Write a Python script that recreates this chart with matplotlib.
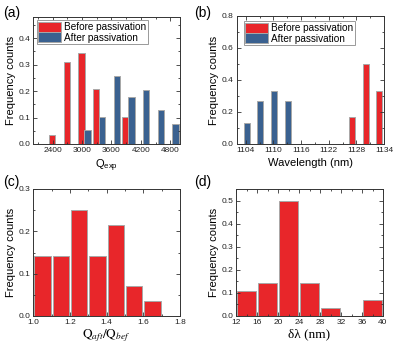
import matplotlib
matplotlib.use("Agg")
import matplotlib.pyplot as plt
from matplotlib.ticker import AutoMinorLocator, MultipleLocator

plt.rcParams['font.family'] = ['Liberation Sans', 'DejaVu Sans']

# ---- data ----
# (a) Q_exp histogram
qa_before_x = [2390, 2690, 2990, 3290, 3890]
qa_before_y = [1/29, 9/29, 10/29, 6/29, 3/29]
qa_after_x = [3110, 3410, 3710, 4010, 4310, 4610, 4910]
qa_after_y = [2/39, 4/39, 10/39, 7/39, 8/39, 5/39, 3/39]
qa_ticks = [2400, 3000, 3600, 4200, 4800]

# (b) wavelength histogram
wl_before_x = [1127.0, 1130.0, 1133.0]
wl_before_y = [1/6, 3/6, 2/6]
wl_after_x = [1104.2, 1107.2, 1110.2, 1113.2]
wl_after_y = [2/15, 4/15, 5/15, 4/15]
wl_ticks = [1104, 1110, 1116, 1122, 1128, 1134]

# (c) Q ratio histogram
qr_x = [1.05, 1.15, 1.25, 1.35, 1.45, 1.55, 1.65]
qr_y = [4/28, 4/28, 7/28, 4/28, 6/28, 2/28, 1/28]
qr_ticks = [1.0, 1.2, 1.4, 1.6, 1.8]

# (d) shift histogram
dl_x = [14, 18, 22, 26, 30, 34, 38]
dl_y = [3/28, 4/28, 14/28, 4/28, 1/28, 0, 2/28]
dl_ticks = [12, 16, 20, 24, 28, 32, 36, 40]

RED = '#e8262a'
BLUE = '#3a6190'
EDGE = '#a8a8a8'

W, H = 394, 345
fig = plt.figure(figsize=(W/100, H/100), dpi=100)

def axpx(l, t, r, b):
    return fig.add_axes([l/W, 1 - b/H, (r - l)/W, (b - t)/H])

def style(ax):
    ax.tick_params(which='both', direction='in', top=True, right=True,
                   labelsize=6, width=0.6, colors='#333333', pad=2)
    ax.tick_params(which='major', length=3)
    ax.tick_params(which='minor', length=1.6)
    ax.tick_params(labelcolor='#222222')
    for s in ax.spines.values():
        s.set_linewidth(0.7)
        s.set_color('#333333')
    ax.set_ylabel('Frequency counts', fontsize=8, labelpad=2)

def legend(ax, anchor):
    leg = ax.legend(loc='upper left', bbox_to_anchor=anchor, fontsize=7.2,
                    handlelength=2.3, handleheight=1.2, labelspacing=0.0, borderpad=0.15,
                    handletextpad=0.3, borderaxespad=0, fancybox=False, framealpha=1)
    leg.get_frame().set_edgecolor('#999999')
    leg.get_frame().set_linewidth(0.7)

bar_kw = dict(edgecolor=EDGE, linewidth=0.7)
fmt1 = plt.FuncFormatter(lambda v, p: f'{v:.1f}')

# (a)
ax = axpx(33, 17, 180, 144)
ax.bar(qa_before_x, qa_before_y, width=130, color=RED, label='Before passivation', **bar_kw)
ax.bar(qa_after_x, qa_after_y, width=130, color=BLUE, label='After passivation', **bar_kw)
ax.set_xlim(2000, 5000)
ax.set_ylim(0, 0.48)
ax.set_xticks(qa_ticks)
ax.yaxis.set_major_locator(MultipleLocator(0.1))
ax.yaxis.set_major_formatter(fmt1)
ax.xaxis.set_minor_locator(AutoMinorLocator(2))
ax.yaxis.set_minor_locator(AutoMinorLocator(2))
style(ax)
ax.set_xlabel('Q$_{\\mathregular{exp}}$', fontsize=8, labelpad=3)
legend(ax, (0.024, 0.976))
fig.text(3/W, 1 - 17/H, '(a)', fontsize=10)

# (b)
ax = axpx(236.5, 16, 384, 144)
ax.bar(wl_before_x, wl_before_y, width=1.3, color=RED, label='Before passivation', **bar_kw)
ax.bar(wl_after_x, wl_after_y, width=1.3, color=BLUE, label='After passivation', **bar_kw)
ax.set_xlim(1102, 1134)
ax.set_ylim(0, 0.8)
ax.set_xticks(wl_ticks)
ax.yaxis.set_major_locator(MultipleLocator(0.2))
ax.yaxis.set_major_formatter(fmt1)
ax.xaxis.set_minor_locator(AutoMinorLocator(2))
ax.yaxis.set_minor_locator(AutoMinorLocator(2))
style(ax)
ax.set_xlabel('Wavelength (nm)', fontsize=8, labelpad=3)
legend(ax, (0.05, 0.96))
fig.text(194/W, 1 - 17/H, '(b)', fontsize=10)

# (c)
ax = axpx(33.3, 189, 180, 316)
ax.bar(qr_x, qr_y, width=0.09, color=RED, **bar_kw)
ax.set_xlim(1.0, 1.8)
ax.set_ylim(0, 0.3)
ax.set_xticks(qr_ticks)
ax.xaxis.set_major_formatter(fmt1)
ax.yaxis.set_major_locator(MultipleLocator(0.1))
ax.yaxis.set_major_formatter(fmt1)
ax.xaxis.set_minor_locator(AutoMinorLocator(2))
ax.yaxis.set_minor_locator(AutoMinorLocator(2))
style(ax)
ax.set_xlabel(r'$\mathrm{Q}_{aft}/\mathrm{Q}_{bef}$', fontsize=9.5, labelpad=1,
              math_fontfamily='stix')
fig.text(3/W, 1 - 186/H, '(c)', fontsize=10)

# (d)
ax = axpx(236, 189, 383, 316)
ax.bar(dl_x, dl_y, width=3.5, color=RED, **bar_kw)
ax.set_xlim(12, 40)
ax.set_ylim(0, 0.55)
ax.set_xticks(dl_ticks)
ax.yaxis.set_major_locator(MultipleLocator(0.1))
ax.yaxis.set_major_formatter(fmt1)
ax.xaxis.set_minor_locator(AutoMinorLocator(2))
ax.yaxis.set_minor_locator(AutoMinorLocator(2))
style(ax)
ax.set_xlabel('δλ (nm)', fontsize=9.5, labelpad=2, family=['Liberation Serif', 'DejaVu Serif'])
fig.text(194/W, 1 - 186/H, '(d)', fontsize=10)

fig.savefig('out.png', dpi=100)
